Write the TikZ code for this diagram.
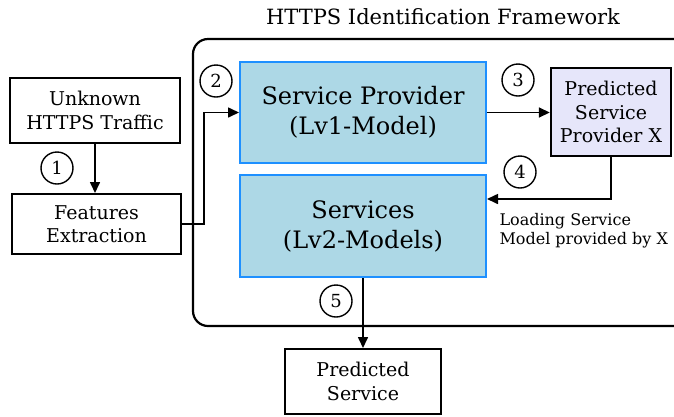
\documentclass[tikz,border=0pt]{standalone}
\usepackage{fontspec}
\setmainfont{DejaVu Serif}
\usetikzlibrary{arrows.meta}

\definecolor{lightblue}{HTML}{ADD8E6}
\definecolor{dodgerblue}{HTML}{1E90FF}
\definecolor{lavender}{HTML}{E6E6FA}

\tikzset{
  plainbox/.style={draw, line width=2pt, align=center, inner sep=0pt,
    font=\fontsize{19}{23.5}\selectfont},
  modelbox/.style={draw=dodgerblue, fill=lightblue, line width=2pt,
    align=center, inner sep=0pt, minimum width=246pt,
    font=\fontsize{24}{30}\selectfont},
  stepnum/.style={circle, draw, line width=1.4pt, minimum size=32pt,
    inner sep=0pt, font=\fontsize{18}{18}\selectfont},
  flow/.style={line width=1.6pt, -{Triangle[length=11pt,width=10pt]}},
}

\begin{document}
\begin{tikzpicture}[x=1pt,y=-1pt]
 \useasboundingbox (0,0) rectangle (674,416);

% Framework outline and its title
 \draw[line width=2.2pt, rounded corners=15pt] (193,39) rectangle (690,326);
 \node (title) at (443,17) {\fontsize{21}{21}\selectfont HTTPS Identification Framework};

% Input side
 \node[plainbox, minimum width=170pt, minimum height=65pt] (traffic) at (95,110.5)
   {Unknown\\HTTPS Traffic};
 \node[plainbox, minimum width=169pt, minimum height=60pt] (features) at (96.5,224)
   {Features\\Extraction};

% Two level models
 \node[modelbox, minimum height=101pt] (provider) at (363,112.5)
   {Service Provider\\(Lv1-Model)};
 \node[modelbox, minimum height=102pt] (services) at (363,226)
   {Services\\(Lv2-Models)};

% Outputs
 \node[plainbox, fill=lavender, line width=2.4pt, minimum width=120pt, minimum height=88pt] (predx) at (611,112)
   {Predicted\\Service\\Provider X};
 \node[plainbox, minimum width=156pt, minimum height=65pt] (predsvc) at (363,381.5)
   {Predicted\\Service};
 \node[anchor=west, align=left, font=\fontsize{16}{19}\selectfont] (loading) at (496,230.5)
   {Loading Service\\Model provided by X};

% Step numbers
 \node[stepnum] (n1) at (57,168) {1};
 \node[stepnum] (n2) at (216,81) {2};
 \node[stepnum] (n3) at (518,80) {3};
 \node[stepnum] (n4) at (520,172) {4};
 \node[stepnum] (n5) at (336,301) {5};

% Connectors
 \draw[flow] (traffic.south) -- (traffic.south |- features.north);
 \draw[flow] (features.east) -- ++(22,0) |- (provider.west);
 \draw[flow] (provider.east) -- (predx.west |- provider.east);
 \draw[flow] (predx.south) |- ([yshift=-25pt]services.north east);
 \draw[flow] (services.south) -- (predsvc.north);

\end{tikzpicture}
\end{document}
